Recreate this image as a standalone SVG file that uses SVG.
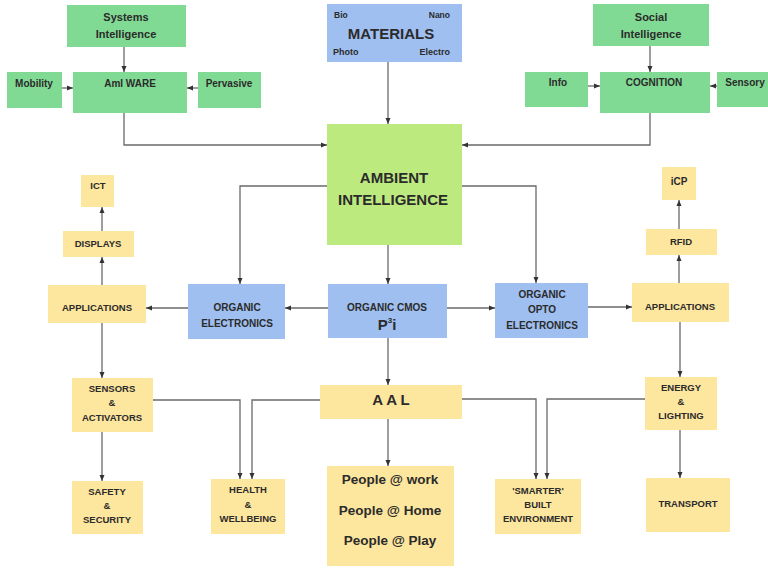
<svg xmlns="http://www.w3.org/2000/svg" width="768" height="569" viewBox="0 0 768 569">
<style>
.g{fill:#80da93}
.l{fill:#bdea7f}
.b{fill:#9fbff0}
.y{fill:#fde69e}
text{font-family:"Liberation Sans",Arial,sans-serif;font-weight:bold;fill:#2b2b2b;text-anchor:middle}
.s{font-size:9.5px}
.m{font-size:10px}
.n{font-size:11px}
.c{stroke:#6a6a6a;stroke-width:1.3;fill:none;marker-end:url(#a)}
</style>
<defs>
<marker id="a" markerUnits="userSpaceOnUse" markerWidth="6" markerHeight="6" refX="6" refY="3" orient="auto">
<path d="M0,0.5 L6,3 L0,5.5 z" fill="#333"/>
</marker>
</defs>
<rect width="768" height="569" fill="#fff"/>
<g id="connectors">
<path class="c" d="M124,47 V72"/>
<path class="c" d="M62,88 H73"/>
<path class="c" d="M198,88 H187"/>
<path class="c" d="M650,46 V72"/>
<path class="c" d="M588,86 H600"/>
<path class="c" d="M717,86 H710"/>
<path class="c" d="M124,113 V145 H327"/>
<path class="c" d="M650,113 V145 H462"/>
<path class="c" d="M388,62 V124"/>
<path class="c" d="M327,186 H240 V284"/>
<path class="c" d="M462,186 H536 V283"/>
<path class="c" d="M388,245 V284"/>
<path class="c" d="M328,308 H285"/>
<path class="c" d="M447,308 H495"/>
<path class="c" d="M188,308 H146"/>
<path class="c" d="M588,307 H632"/>
<path class="c" d="M102,285 V257"/>
<path class="c" d="M102,231 V207"/>
<path class="c" d="M679,283 V255"/>
<path class="c" d="M679,229 V200"/>
<path class="c" d="M102,323 V378"/>
<path class="c" d="M102,432 V481"/>
<path class="c" d="M680,322 V377"/>
<path class="c" d="M680,430 V478"/>
<path class="c" d="M153,400 H240 V479"/>
<path class="c" d="M320,400 H252 V479"/>
<path class="c" d="M388,338 V385"/>
<path class="c" d="M388,419 V466"/>
<path class="c" d="M462,399 H536 V479"/>
<path class="c" d="M645,399 H547 V479"/>
</g>
<g id="systems-intelligence"><rect class="g" x="67" y="5" width="119" height="42"/><text class="n" x="126" y="21">Systems</text><text class="n" x="126" y="38">Intelligence</text></g>
<g id="mobility"><rect class="g" x="7" y="72" width="55" height="36"/><text class="m" x="34" y="87">Mobility</text></g>
<g id="amiware"><rect class="g" x="73" y="72" width="114" height="41"/><text class="m" x="130" y="87">AmI WARE</text></g>
<g id="pervasive"><rect class="g" x="198" y="72" width="63" height="36"/><text class="m" x="229" y="87">Pervasive</text></g>
<g id="materials"><rect class="b" x="327" y="4" width="135" height="58"/>
<text style="font-size:8.5px;text-anchor:start" x="334" y="18">Bio</text>
<text style="font-size:8.5px;text-anchor:end" x="450" y="18">Nano</text>
<text style="font-size:15px" x="391" y="39">MATERIALS</text>
<text style="font-size:9px;text-anchor:start" x="333" y="55">Photo</text>
<text style="font-size:9px;text-anchor:end" x="450" y="55">Electro</text></g>
<g id="social-intelligence"><rect class="g" x="593" y="4" width="116" height="42"/><text class="n" x="651" y="21">Social</text><text class="n" x="651" y="38">Intelligence</text></g>
<g id="info"><rect class="g" x="525" y="72" width="63" height="35"/><text class="m" x="558" y="86">Info</text></g>
<g id="cognition"><rect class="g" x="600" y="72" width="110" height="41"/><text class="m" x="654" y="86">COGNITION</text></g>
<g id="sensory"><rect class="g" x="717" y="72" width="51" height="35"/><text class="m" x="745" y="86">Sensory</text></g>
<g id="ambient"><rect class="l" x="327" y="124" width="135" height="121"/><text style="font-size:15px" x="394" y="183">AMBIENT</text><text style="font-size:15px" x="393" y="205">INTELLIGENCE</text></g>
<g id="ict"><rect class="y" x="81" y="175" width="33" height="32"/><text class="s" x="98" y="189">ICT</text></g>
<g id="displays"><rect class="y" x="63" y="231" width="71" height="26"/><text class="s" x="98" y="247">DISPLAYS</text></g>
<g id="applications-left"><rect class="y" x="48" y="285" width="98" height="38"/><text class="s" x="97" y="311">APPLICATIONS</text></g>
<g id="organic-electronics"><rect class="b" x="188" y="284" width="97" height="55"/><text class="m" x="237" y="311">ORGANIC</text><text class="m" x="237" y="327">ELECTRONICS</text></g>
<g id="organic-cmos"><rect class="b" x="328" y="284" width="119" height="54"/><text class="m" x="387" y="311">ORGANIC CMOS</text><text style="font-size:15px" x="387" y="330">P<tspan style="font-size:8px" dy="-7">3</tspan><tspan dy="7">i</tspan></text></g>
<g id="organic-opto"><rect class="b" x="495" y="283" width="93" height="55"/><text class="m" x="542" y="298">ORGANIC</text><text class="m" x="542" y="313">OPTO</text><text class="m" x="542" y="329">ELECTRONICS</text></g>
<g id="icp"><rect class="y" x="662" y="167" width="34" height="33"/><text class="m" x="679" y="185">iCP</text></g>
<g id="rfid"><rect class="y" x="646" y="229" width="71" height="26"/><text class="s" x="681" y="245">RFID</text></g>
<g id="applications-right"><rect class="y" x="632" y="283" width="97" height="39"/><text class="s" x="680" y="310">APPLICATIONS</text></g>
<g id="sensors"><rect class="y" x="72" y="378" width="81" height="54"/><text class="s" x="112" y="392">SENSORS</text><text class="s" x="112" y="406">&amp;</text><text class="s" x="112" y="421">ACTIVATORS</text></g>
<g id="safety"><rect class="y" x="72" y="481" width="71" height="53"/><text class="s" x="107" y="495">SAFETY</text><text class="s" x="107" y="509">&amp;</text><text class="s" x="107" y="523">SECURITY</text></g>
<g id="health"><rect class="y" x="211" y="479" width="74" height="55"/><text class="s" x="248" y="493">HEALTH</text><text class="s" x="248" y="508">&amp;</text><text class="s" x="248" y="522">WELLBEING</text></g>
<g id="aal"><rect class="y" x="320" y="385" width="142" height="34"/><text style="font-size:15px" x="391" y="405">A A L</text></g>
<g id="people"><rect class="y" x="327" y="466" width="127" height="100"/><text style="font-size:13.5px" x="390" y="484">People @ work</text><text style="font-size:13.5px" x="390" y="515">People @ Home</text><text style="font-size:13.5px" x="390" y="545">People @ Play</text></g>
<g id="smarter"><rect class="y" x="495" y="479" width="86" height="55"/><text class="s" x="538" y="494">'SMARTER'</text><text class="s" x="538" y="508">BUILT</text><text class="s" x="538" y="522">ENVIRONMENT</text></g>
<g id="energy"><rect class="y" x="645" y="377" width="72" height="53"/><text class="s" x="681" y="391">ENERGY</text><text class="s" x="681" y="405">&amp;</text><text class="s" x="681" y="419">LIGHTING</text></g>
<g id="transport"><rect class="y" x="646" y="478" width="84" height="54"/><text class="s" x="688" y="507">TRANSPORT</text></g>
</svg>
